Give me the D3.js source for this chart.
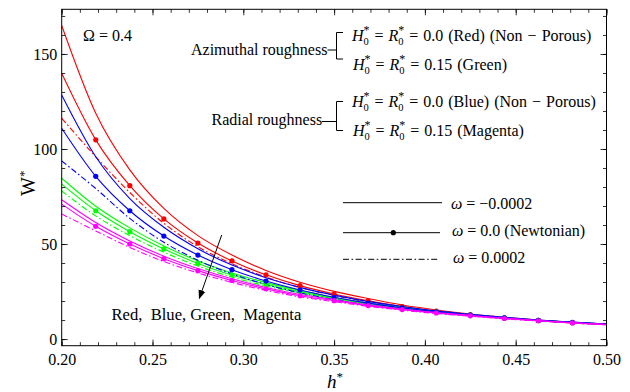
<!DOCTYPE html>
<html><head><meta charset="utf-8">
<script src="https://cdn.jsdelivr.net/npm/d3@7"></script>
<style>
html,body{margin:0;padding:0;background:#fff;}
</style></head>
<body>
<svg id="chart" width="630" height="392"></svg>
<script>
// ---- data ----
const hVals = [0.2, 0.21875, 0.2375, 0.25625, 0.275, 0.29375, 0.3125, 0.33125, 0.35, 0.36875, 0.3875, 0.40625, 0.425, 0.44375, 0.4625, 0.48125, 0.5];
const redNeg      = [165.0, 118.8, 89.0, 68.7, 54.4, 44.2, 36.1, 29.9, 25.1, 21.3, 17.9, 15.3, 13.2, 11.5, 10.0, 8.8, 7.85];
const redZero     = [139.8, 104.8, 80.7, 63.2, 50.5, 41.1, 33.8, 28.1, 23.7, 20.1, 17.1, 14.7, 12.8, 11.2, 9.8, 8.6, 7.7];
const redPos      = [116.2, 95.9, 77.1, 60.9, 48.6, 39.6, 32.6, 27.1, 22.9, 19.5, 16.6, 14.3, 12.5, 10.9, 9.6, 8.4, 7.6];
const greenNeg    = [84.6, 69.9, 58.5, 49.0, 41.1, 34.8, 29.7, 25.6, 21.9, 19.0, 16.7, 14.6, 12.8, 11.3, 9.9, 8.8, 7.9];
const greenZero   = [81.5, 67.5, 56.5, 47.4, 39.8, 33.7, 28.8, 24.9, 21.3, 18.6, 16.3, 14.3, 12.6, 11.1, 9.8, 8.7, 7.8];
const greenPos    = [77.9, 64.8, 54.4, 45.7, 38.4, 32.6, 27.9, 24.2, 20.7, 18.2, 15.9, 14.0, 12.4, 10.9, 9.7, 8.6, 7.7];
const blueNeg     = [128.4, 95.9, 73.9, 58.8, 47.5, 38.9, 32.3, 27.2, 23.1, 19.8, 17.1, 14.8, 13.0, 11.4, 10.0, 8.9, 7.9];
const blueZero    = [110.9, 85.6, 67.5, 54.2, 44.2, 36.5, 30.5, 25.8, 22.0, 18.9, 16.4, 14.3, 12.6, 11.1, 9.8, 8.8, 7.85];
const bluePos     = [93.7, 79.2, 63.5, 50.9, 41.5, 34.3, 28.7, 24.3, 20.8, 18.0, 15.7, 13.7, 12.2, 10.8, 9.6, 8.6, 7.7];
const magentaNeg  = [73.3, 61.3, 51.6, 43.6, 37.1, 31.7, 27.1, 23.4, 20.7, 18.0, 15.8, 13.9, 12.4, 11.0, 9.7, 8.6, 7.7];
const magentaZero = [71.0, 59.3, 50.0, 42.3, 36.0, 30.8, 26.4, 22.8, 20.2, 17.6, 15.5, 13.7, 12.2, 10.8, 9.6, 8.5, 7.6];
const magentaPos  = [65.8, 56.9, 48.2, 40.8, 34.8, 29.8, 25.6, 22.2, 19.7, 17.2, 15.2, 13.4, 12.0, 10.6, 9.5, 8.4, 7.5];

const xTicks = [0.20, 0.25, 0.30, 0.35, 0.40, 0.45, 0.50];
const xTickLabels = ["0.20", "0.25", "0.30", "0.35", "0.40", "0.45", "0.50"];
const yTicks = [0, 50, 100, 150];
const yTickLabels = ["0", "50", "100", "150"];
const omegaLabels = ["\u03c9 = \u22120.0002", "\u03c9 = 0.0 (Newtonian)", "\u03c9 = 0.0002"];

const seriesList = [
  {name: "red", color: "#ff0000", neg: redNeg, zero: redZero, pos: redPos},
  {name: "green", color: "#00ff00", neg: greenNeg, zero: greenZero, pos: greenPos},
  {name: "blue", color: "#0000ff", neg: blueNeg, zero: blueZero, pos: bluePos},
  {name: "magenta", color: "#ff00ff", neg: magentaNeg, zero: magentaZero, pos: magentaPos}
];

// ---- layout ----
const FONT = '"Liberation Serif"';
const svg = d3.select("#chart");
const L = 61.7, R = 606.5, T = 9.3, B = 345.7;
const x = d3.scaleLinear().domain([0.2, 0.5]).range([L, R]);
const y = d3.scaleLinear().domain([-3.5, 173.5]).range([B, T]);
const dashDot = "6,2.5,1.6,2.5";

svg.append("defs").append("clipPath").attr("id", "clip")
  .append("rect").attr("x", L).attr("y", T).attr("width", R - L).attr("height", B - T);

const plot = svg.append("g").attr("clip-path", "url(#clip)");
const line = d3.line().x((d, i) => x(hVals[i])).y(d => y(d)).curve(d3.curveMonotoneX);

seriesList.forEach(s => {
  plot.append("path").attr("d", line(s.neg)).attr("fill", "none").attr("stroke", s.color).attr("stroke-width", 1.1);
  plot.append("path").attr("d", line(s.zero)).attr("fill", "none").attr("stroke", s.color).attr("stroke-width", 1.1);
  plot.append("path").attr("d", line(s.pos)).attr("fill", "none").attr("stroke", s.color).attr("stroke-width", 1.1)
    .attr("stroke-dasharray", dashDot);
});
seriesList.forEach(s => {
  plot.selectAll(null).data(s.zero.slice(1, -1)).enter().append("circle")
    .attr("cx", (d, i) => x(hVals[i + 1])).attr("cy", d => y(d)).attr("r", 2.6).attr("fill", s.color);
});

// ---- frame and ticks ----
const axes = svg.append("g");
const xAxisB = d3.axisBottom(x).tickValues(xTicks).tickFormat((d, i) => xTickLabels[i]).tickSize(-6).tickPadding(8);
const xMinor = d3.range(20, 51).map(v => v / 100);
const yMinor = d3.range(0, 171, 10);
const xAxisBm = d3.axisBottom(x).tickValues(xMinor).tickFormat("").tickSize(-3.5);
const xAxisTm = d3.axisTop(x).tickValues(xMinor).tickFormat("").tickSize(-3.5);
const xAxisT = d3.axisTop(x).tickValues(xTicks).tickFormat("").tickSize(-6);
const yAxisL = d3.axisLeft(y).tickValues(yTicks).tickFormat((d, i) => yTickLabels[i]).tickSize(-6).tickPadding(4.5);
const yAxisLm = d3.axisLeft(y).tickValues(yMinor).tickFormat("").tickSize(-3.5);
const yAxisR = d3.axisRight(y).tickValues(yTicks).tickFormat("").tickSize(-6);
const yAxisRm = d3.axisRight(y).tickValues(yMinor).tickFormat("").tickSize(-3.5);

function styleAxis(g) {
  g.select(".domain").remove();
  g.selectAll("line").attr("stroke", "#000").attr("stroke-width", 0.8);
  g.selectAll("text").attr("fill", "#000").style("font-size", "16px");
}
axes.append("g").attr("transform", `translate(0,${B})`).call(xAxisBm).call(styleAxis);
axes.append("g").attr("transform", `translate(0,${B})`).call(xAxisB).call(styleAxis);
axes.append("g").attr("transform", `translate(0,${T})`).call(xAxisTm).call(styleAxis);
axes.append("g").attr("transform", `translate(0,${T})`).call(xAxisT).call(styleAxis);
axes.append("g").attr("transform", `translate(${L},0)`).call(yAxisLm).call(styleAxis);
axes.append("g").attr("transform", `translate(${L},0)`).call(yAxisL).call(styleAxis);
axes.append("g").attr("transform", `translate(${R},0)`).call(yAxisR).call(styleAxis);
axes.append("g").attr("transform", `translate(${R},0)`).call(yAxisRm).call(styleAxis);
axes.append("rect").attr("x", L).attr("y", T).attr("width", R - L).attr("height", B - T)
  .attr("fill", "none").attr("stroke", "#000").attr("stroke-width", 1);

// ---- axis titles ----
const xt = svg.append("text").attr("x", 327).attr("y", 388).style("font-size", "19px");
xt.append("tspan").text("h").style("font-style", "italic");
xt.append("tspan").text("*").attr("dy", -7).style("font-size", "13px");

const yt = svg.append("text").attr("transform", "translate(35,196) rotate(-90)").style("font-size", "20px");
yt.append("tspan").text("W");
yt.append("tspan").text("*").attr("dy", -7).style("font-size", "13px");

// ---- annotations ----
const fs = "16px";
svg.append("text").attr("x", 83).attr("y", 40.5).style("font-size", fs).text("\u03a9 = 0.4");

svg.append("text").attr("x", 191).attr("y", 54.5).style("font-size", fs).text("Azimuthal roughness");
svg.append("text").attr("x", 211.5).attr("y", 124.5).style("font-size", fs).text("Radial roughness");

const br = svg.append("g").attr("stroke", "#000").attr("stroke-width", 1).attr("fill", "none");
br.append("path").attr("d", "M327.5,50 H336.5 M343,32.5 H336.5 V59 H343");
br.append("path").attr("d", "M322,121.5 H336.5 M343,101.5 H336.5 V130.5 H343");

function hrLabel(xp, yp, rest) {
  const t = svg.append("text").attr("x", xp).attr("y", yp).style("font-size", fs).style("word-spacing", "1px");
  t.append("tspan").text("H").style("font-style", "italic");
  t.append("tspan").text("0").attr("dy", 4.5).style("font-size", "10.5px");
  t.append("tspan").text("*").attr("dx", -5.3).attr("dy", -11.5).style("font-size", "12px");
  t.append("tspan").text(" = ").attr("dy", 7);
  t.append("tspan").text("R").style("font-style", "italic");
  t.append("tspan").text("0").attr("dy", 4.5).style("font-size", "10.5px");
  t.append("tspan").text("*").attr("dx", -5.3).attr("dy", -11.5).style("font-size", "12px");
  t.append("tspan").text(rest).attr("dy", 7);
}
hrLabel(352, 40.5, " = 0.0 (Red) (Non \u2212 Porous)");
hrLabel(353, 69.5, " = 0.15 (Green)");
hrLabel(352, 106.5, " = 0.0 (Blue) (Non \u2212 Porous)");
hrLabel(353, 135.5, " = 0.15 (Magenta)");

// omega legend
const lg = svg.append("g");
lg.append("line").attr("x1", 343).attr("x2", 442).attr("y1", 202.7).attr("y2", 202.7).attr("stroke", "#000").attr("stroke-width", 1);
lg.append("line").attr("x1", 343).attr("x2", 440).attr("y1", 232.7).attr("y2", 232.7).attr("stroke", "#000").attr("stroke-width", 1);
lg.append("circle").attr("cx", 393.3).attr("cy", 232.7).attr("r", 2.6).attr("fill", "#000");
lg.append("line").attr("x1", 343).attr("x2", 438).attr("y1", 259.3).attr("y2", 259.3).attr("stroke", "#000").attr("stroke-width", 1).attr("stroke-dasharray", dashDot);
const omegaY = [208.5, 236, 263];
const omegaX = [451, 452, 453];
omegaLabels.forEach((s, i) => {
  const t = lg.append("text").attr("x", omegaX[i]).attr("y", omegaY[i]).style("font-size", fs);
  t.append("tspan").text(s.slice(0, 1)).style("font-style", "italic");
  t.append("tspan").text(s.slice(1));
});

// arrow
svg.append("defs").append("marker").attr("id", "arr").attr("viewBox", "0 0 10 10")
  .attr("refX", 9).attr("refY", 5).attr("markerWidth", 9).attr("markerHeight", 9)
  .attr("markerUnits", "userSpaceOnUse").attr("orient", "auto")
  .append("path").attr("d", "M0,1 L10,5 L0,9 Z").attr("fill", "#000");
svg.append("line").attr("x1", 221.7).attr("y1", 235).attr("x2", 199.3).attr("y2", 298.3)
  .attr("stroke", "#000").attr("stroke-width", 1).attr("marker-end", "url(#arr)");

svg.append("text").attr("x", 111.5).attr("y", 320).style("font-size", "16.6px").attr("xml:space", "preserve")
  .style("white-space", "pre").text("Red,  Blue, Green,  Magenta");

// one serif family for every text
svg.selectAll("text").style("font-family", FONT);
</script>
</body></html>
